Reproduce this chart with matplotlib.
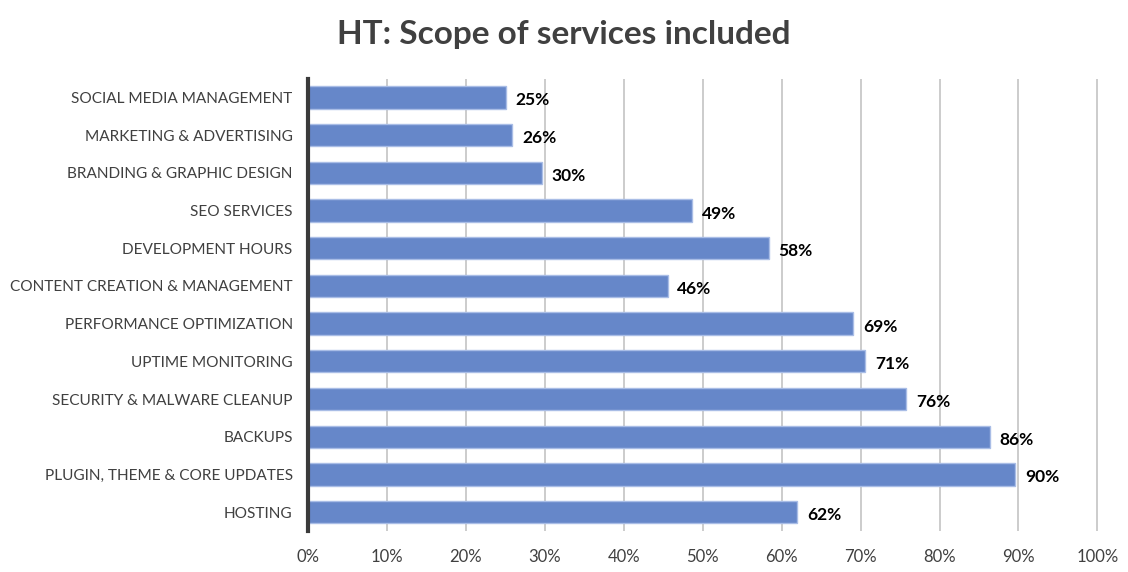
import matplotlib
matplotlib.use("Agg")
import matplotlib.pyplot as plt
from matplotlib.ticker import FuncFormatter

categories = [
    "SOCIAL MEDIA MANAGEMENT",
    "MARKETING & ADVERTISING",
    "BRANDING & GRAPHIC DESIGN",
    "SEO SERVICES",
    "DEVELOPMENT HOURS",
    "CONTENT CREATION & MANAGEMENT",
    "PERFORMANCE OPTIMIZATION",
    "UPTIME MONITORING",
    "SECURITY & MALWARE CLEANUP",
    "BACKUPS",
    "PLUGIN, THEME & CORE UPDATES",
    "HOSTING",
]
values = [25.1, 25.9, 29.7, 48.7, 58.4, 45.6, 69.1, 70.6, 75.8, 86.4, 89.6, 62.0]
labels = ["25%", "26%", "30%", "49%", "58%", "46%", "69%", "71%", "76%", "86%", "90%", "62%"]
xticks = [0, 10, 20, 30, 40, 50, 60, 70, 80, 90, 100]

plt.rcParams['font.family'] = ['Lato', 'DejaVu Sans']

fig = plt.figure(figsize=(11.28, 5.72), dpi=100)
ax = fig.add_axes([0.273, 0.0717, 0.702, 0.791])

y = list(range(len(categories)))
ax.barh(y, values, height=0.59, color="#6687C9", edgecolor="#A9BDE6", linewidth=1.0, zorder=3)
for yi, v, lab in zip(y, values, labels):
    ax.text(v + 1.2, yi + 0.08, lab, va="center", ha="left", fontsize=12.5,
            fontweight="bold", color="black")

ax.set_ylim(len(categories) - 0.5, -0.5)
ax.set_xlim(0, 100.3)
ax.set_yticks(y)
ax.set_yticklabels(categories, fontsize=11.1, color="#404040")
ax.set_xticks(xticks)
ax.xaxis.set_major_formatter(FuncFormatter(lambda v, p: f"{int(v)}%"))
ax.tick_params(axis="x", labelsize=12, labelcolor="#404040", length=0, pad=13)
ax.tick_params(axis="y", length=0, pad=11)
ax.grid(axis="x", color="#C8C8C8", linewidth=1.3, zorder=0)
for s in ["top", "right", "bottom"]:
    ax.spines[s].set_visible(False)
ax.spines["left"].set_color("#3A3A3A")
ax.spines["left"].set_linewidth(3)
ax.spines["left"].set_zorder(4)

fig.suptitle("HT: Scope of services included", x=0.5, y=0.965, fontsize=24,
             fontweight="bold", color="#404040")

fig.savefig("out.png", dpi=100)
